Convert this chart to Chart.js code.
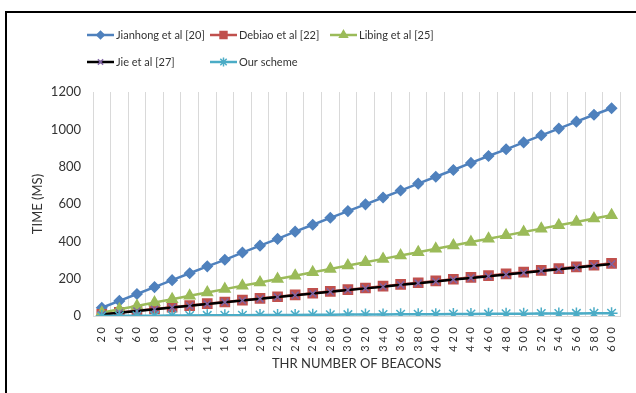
<!DOCTYPE html>
<html>
<head>
<meta charset="utf-8">
<script src="https://cdn.jsdelivr.net/npm/chart.js@4/dist/chart.umd.min.js"></script>
<style>
  html, body { margin: 0; padding: 0; background: #fff; }
  #wrap { position: relative; width: 636px; height: 393px; overflow: hidden; }
  #frame {
    position: absolute; left: 5px; top: 11px; width: 700px; height: 500px;
    border-left: 2px solid #000; border-top: 2px solid #000; pointer-events: none;
  }
</style>
</head>
<body>
<div id="wrap">
  <canvas id="c" width="636" height="393"></canvas>
  <div id="frame"></div>
</div>
<script>
// Number of beacons on the x axis
const beacons = [20, 40, 60, 80, 100, 120, 140, 160, 180, 200, 220, 240, 260, 280, 300,
                 320, 340, 360, 380, 400, 420, 440, 460, 480, 500, 520, 540, 560, 580, 600];

// Time (ms) per scheme
const jianhong = [44, 81, 118, 155, 192, 229, 266, 301, 340, 377, 413, 452, 489, 526, 562,
                  598, 635, 672, 709, 746, 782, 820, 857, 893, 930, 968, 1004, 1041, 1078, 1113];
const debiao   = [9, 19, 28, 38, 47, 56, 66, 75, 85, 94, 103, 113, 122, 132, 141,
                  150, 160, 169, 178, 188, 197, 207, 216, 226, 235, 244, 254, 263, 272, 282];
const libing   = [18, 36, 54, 72, 90, 108, 126, 144, 162, 180, 198, 216, 234, 252, 270,
                  288, 306, 324, 342, 360, 378, 396, 414, 432, 450, 468, 486, 504, 522, 540];
const jie      = [8, 17, 27, 36, 46, 55, 64, 74, 83, 92, 102, 111, 120, 130, 139,
                  148, 157, 167, 176, 185, 195, 204, 213, 222, 232, 241, 250, 260, 269, 278];
const ourScheme = [0.5, 1, 1.5, 2, 2.5, 3, 3.5, 4, 4.5, 5, 5.5, 6, 6.5, 7, 7.5,
                   8, 8.5, 9, 9.5, 10, 10.5, 11, 11.5, 12, 12.5, 13, 13.5, 14, 14.5, 15];

// Category labels are drawn with spaced digits
const beaconLabels = beacons.map(n => String(n).split('').join(' '));
const yTicks = [0, 200, 400, 600, 800, 1000, 1200];

const FONT = 'Lato, "Open Sans", sans-serif';
const TEXT = '#333333';

const series = [
  { label: 'Jianhong et al [20]', data: jianhong, line: '#4F81BD', mark: '#4F81BD', style: 'rectRot', r: 5, order: 5 },
  { label: 'Debiao et al [22]',   data: debiao,   line: '#C0504D', mark: '#C0504D', style: 'rect',    r: 6.5, order: 4 },
  { label: 'Libing et al [25]',   data: libing,   line: '#9BBB59', mark: '#9BBB59', style: 'triangle', r: 6, order: 3 },
  { label: 'Jie et al [27]',      data: jie,      line: '#000000', mark: '#8064A2', style: 'crossRot', r: 5, order: 2 },
  { label: 'Our scheme',          data: ourScheme, line: '#4BACC6', mark: '#4BACC6', style: 'star',   r: 6, order: 1 }
];

// Legend laid out in two rows with fixed columns
const legendSlots = [
  { x: 87, y: 35 }, { x: 210, y: 35 }, { x: 330, y: 35 },
  { x: 87, y: 62 }, { x: 210, y: 62 }
];

const gridLegend = {
  id: 'gridLegend',
  afterDraw(chart) {
    const ctx = chart.ctx;
    ctx.save();
    chart.data.datasets.forEach((ds, i) => {
      const s = legendSlots[i];
      ctx.strokeStyle = ds.borderColor;
      ctx.lineWidth = 2.5;
      ctx.beginPath();
      ctx.moveTo(s.x, s.y);
      ctx.lineTo(s.x + 27, s.y);
      ctx.stroke();
      ctx.fillStyle = ds.pointBackgroundColor;
      ctx.strokeStyle = ds.pointBorderColor;
      ctx.lineWidth = ds.pointBorderWidth;
      Chart.helpers.drawPoint(ctx, { pointStyle: ds.pointStyle, radius: ds.pointRadius * 0.75, borderWidth: ds.pointBorderWidth, rotation: 0 }, s.x + 13.5, s.y);
      ctx.fillStyle = TEXT;
      ctx.font = '11px ' + FONT;
      ctx.textBaseline = 'middle';
      ctx.textAlign = 'left';
      ctx.fillText(ds.label, s.x + 29, s.y);
    });
    ctx.restore();
  }
};

new Chart(document.getElementById('c'), {
  type: 'line',
  data: {
    labels: beaconLabels,
    datasets: series.map(s => ({
      label: s.label,
      data: s.data,
      order: s.order,
      borderColor: s.line,
      backgroundColor: s.mark,
      borderWidth: 2.5,
      tension: 0,
      pointStyle: s.style,
      pointRadius: s.r,
      pointBackgroundColor: s.mark,
      pointBorderColor: s.mark,
      pointBorderWidth: 1.5
    }))
  },
  options: {
    responsive: false,
    animation: false,
    devicePixelRatio: 1,
    layout: { padding: { left: 26, top: 92, right: 14, bottom: 17 } },
    plugins: { legend: { display: false }, tooltip: { enabled: false } },
    scales: {
      x: {
        type: 'category',
        offset: true,
        grid: { offset: true, color: '#d9d9d9', drawTicks: false },
        border: { display: true, color: '#d9d9d9' },
        ticks: {
          autoSkip: false, minRotation: 90, maxRotation: 90, padding: 11,
          color: TEXT, font: { family: FONT, size: 11 }
        },
        title: {
          display: true, text: 'THR NUMBER OF BEACONS', color: TEXT,
          font: { family: FONT, size: 13 }
        },
        afterFit(scale) { scale.height = 60; }
      },
      y: {
        min: 0, max: 1200,
        afterBuildTicks(scale) { scale.ticks = yTicks.map(v => ({ value: v })); },
        grid: { display: false, drawTicks: false },
        border: { display: false },
        ticks: {
          padding: 12, color: TEXT, font: { family: FONT, size: 13 },
          callback: v => String(v)
        },
        title: {
          display: true, text: 'TIME (MS)', color: TEXT,
          font: { family: FONT, size: 13 }
        },
        afterFit(scale) { scale.width = 67; }
      }
    }
  },
  plugins: [gridLegend]
});
</script>
</body>
</html>
